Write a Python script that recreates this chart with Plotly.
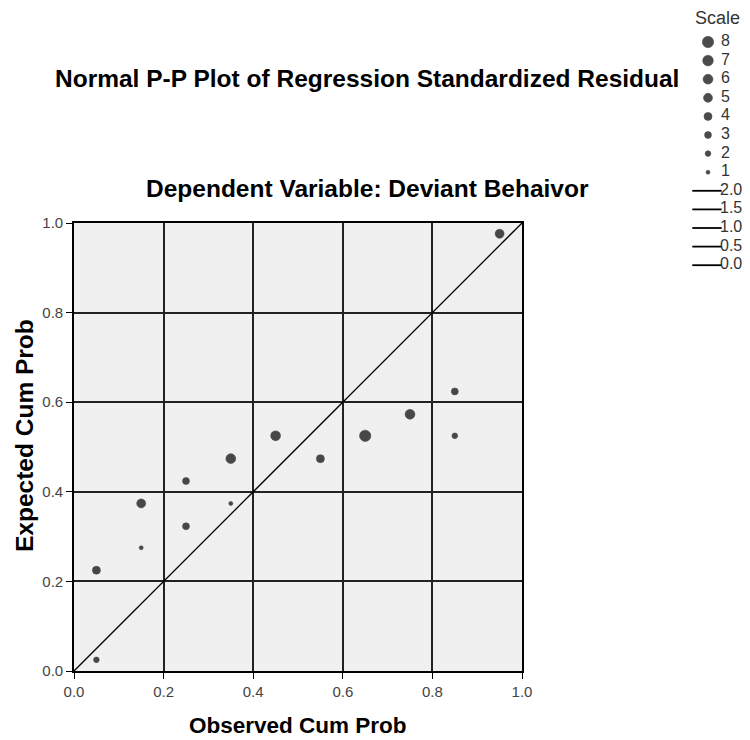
import plotly.graph_objects as go
import numpy as np

# ---- data ----
observed_cum_prob = [0.05, 0.05, 0.15, 0.15, 0.25, 0.25, 0.35, 0.35, 0.45, 0.55, 0.65, 0.75, 0.85, 0.85, 0.95]
expected_cum_prob = [0.225, 0.025, 0.374, 0.275, 0.424, 0.323, 0.474, 0.374, 0.525, 0.474, 0.525, 0.573, 0.624, 0.525, 0.976]
point_counts = [4, 2, 5, 1, 3, 3, 6, 1, 6, 4, 8, 6, 3, 2, 5]

scale_counts = [8, 7, 6, 5, 4, 3, 2, 1]
scale_lines = ["2.0", "1.5", "1.0", "0.5", "0.0"]
tick_vals = [0.0, 0.2, 0.4, 0.6, 0.8, 1.0]
tick_text = ["0.0", "0.2", "0.4", "0.6", "0.8", "1.0"]

W, H = 750, 740
FONT = "Liberation Sans, Arial, sans-serif"

def dot_size(c):
    return 4.0 * np.sqrt(c)

# plot area in pixels
L, R, T, B = 74, 522, 223, 671

fig = go.Figure()

# reference diagonal
fig.add_trace(go.Scatter(x=[0, 1], y=[0, 1], mode="lines",
                         line=dict(color="black", width=1.3),
                         hoverinfo="skip", showlegend=False))

# points
fig.add_trace(go.Scatter(x=observed_cum_prob, y=expected_cum_prob, mode="markers",
                         marker=dict(color="black", size=[dot_size(c) for c in point_counts],
                                     line=dict(width=0.6, color="black")),
                         showlegend=False))

# ---- custom legend on helper axes (pixel units in x, row units in y) ----
row0, row_step = 42, 18.6
LX0, LX1 = 688, 750
LY0, LY1 = 5, 275
legend_rows = list(range(len(scale_counts) + len(scale_lines)))
fig.add_trace(go.Scatter(
    x=[708] * len(scale_counts), y=legend_rows[:len(scale_counts)],
    xaxis="x2", yaxis="y2", mode="markers", cliponaxis=False,
    marker=dict(color="black", size=[dot_size(c) for c in scale_counts],
                line=dict(width=0.6, color="black")),
    showlegend=False, hoverinfo="skip"))
fig.add_trace(go.Scatter(
    x=[707] * len(scale_lines), y=legend_rows[len(scale_counts):],
    xaxis="x2", yaxis="y2", mode="markers", cliponaxis=False,
    marker=dict(symbol="line-ew-open", size=21, color="black", line=dict(color="black", width=1.8)),
    showlegend=False, hoverinfo="skip"))
fig.add_trace(go.Scatter(
    x=[721] * len(scale_counts) + [720] * len(scale_lines), y=legend_rows,
    xaxis="x2", yaxis="y2", mode="text", cliponaxis=False,
    text=[str(c) for c in scale_counts] + scale_lines,
    textposition="middle right",
    textfont=dict(family=FONT, size=16, color="#333333"),
    marker=dict(size=1),
    showlegend=False, hoverinfo="skip"))

fig.add_annotation(text="Scale", xref="x2", yref="y2", x=693, y=(18 - row0) / row_step,
                   xanchor="left", yanchor="middle", showarrow=False,
                   font=dict(family=FONT, size=18, color="#333333"))

# white cover for the helper subplot background
fig.add_shape(type="rect", xref="x2 domain", yref="y2 domain", x0=0, x1=1, y0=0, y1=1,
              fillcolor="white", line=dict(width=0), layer="below")

# titles
TFS = 24.5
fig.add_annotation(text="<b>Normal P-P Plot of Regression Standardized Residual</b>",
                   xref="paper", yref="paper", x=367 / W, y=1 - 78 / H,
                   xanchor="center", yanchor="middle", showarrow=False,
                   font=dict(family=FONT, size=TFS, color="black"))
fig.add_annotation(text="<b>Dependent Variable: Deviant Behaivor</b>",
                   xref="paper", yref="paper", x=367 / W, y=1 - 188 / H,
                   xanchor="center", yanchor="middle", showarrow=False,
                   font=dict(family=FONT, size=TFS, color="black"))
fig.add_annotation(text="<b>Observed Cum Prob</b>",
                   xref="paper", yref="paper", x=298 / W, y=1 - 725 / H,
                   xanchor="center", yanchor="middle", showarrow=False,
                   font=dict(family=FONT, size=22.5, color="black"))
fig.add_annotation(text="<b>Expected Cum Prob</b>",
                   xref="paper", yref="paper", x=24 / W, y=1 - 436 / H,
                   xanchor="center", yanchor="middle", showarrow=False, textangle=-90,
                   font=dict(family=FONT, size=24.5, color="black"))

axis_common = dict(
    range=[0, 1], tickvals=tick_vals, ticktext=tick_text,
    showgrid=True, gridcolor="#222222", gridwidth=1.5,
    showline=True, linecolor="black", linewidth=1.6, mirror=True,
    ticks="outside", ticklen=6, tickcolor="black", tickwidth=1.4,
    tickfont=dict(family=FONT, size=15, color="#444444"),
    zeroline=False, fixedrange=True, automargin=False,
)

fig.update_layout(
    width=W, height=H, autosize=False,
    margin=dict(l=0, r=0, t=0, b=0, autoexpand=False),
    paper_bgcolor="white", plot_bgcolor="#f0f0f0",
    xaxis=dict(domain=[L / W, R / W], **axis_common),
    yaxis=dict(domain=[1 - B / H, 1 - T / H], **axis_common),
    xaxis2=dict(domain=[LX0 / W, LX1 / W], range=[LX0, LX1], visible=False,
                anchor="y2", fixedrange=True),
    yaxis2=dict(domain=[1 - LY1 / H, 1 - LY0 / H],
                range=[(LY1 - row0) / row_step, (LY0 - row0) / row_step],
                visible=False, anchor="x2", fixedrange=True),
    showlegend=False,
)

fig.write_html("out.html", config={"displayModeBar": False},
               post_script="document.body.style.margin='0';document.body.style.overflow='hidden';")
